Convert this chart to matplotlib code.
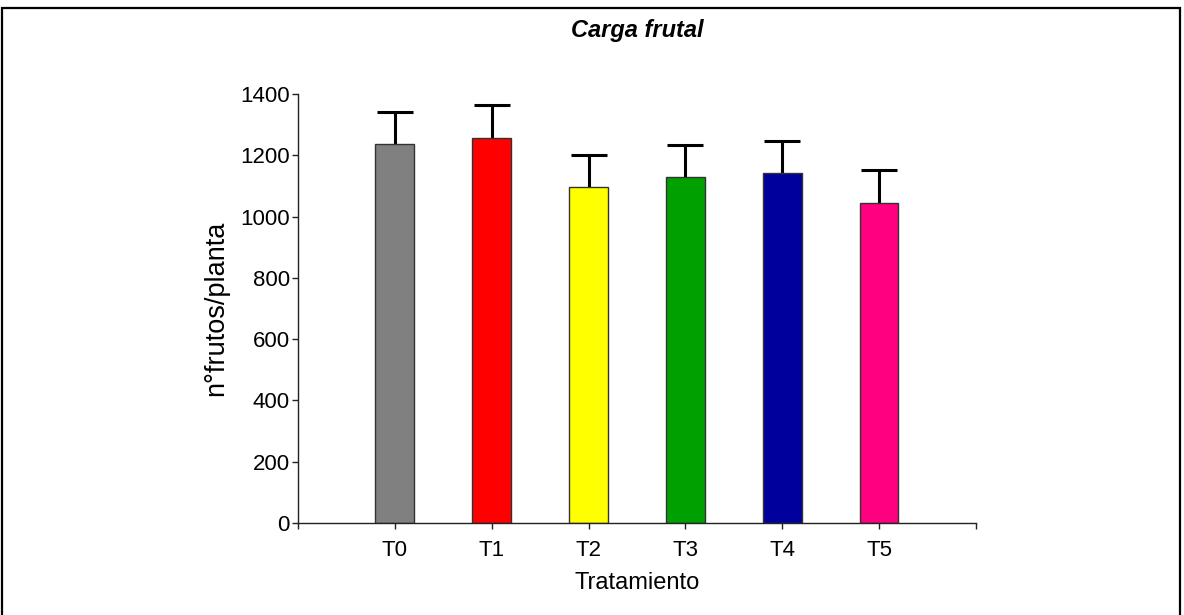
import numpy as np
import matplotlib.pyplot as plt
from matplotlib.patches import Rectangle

# data
tratamientos = ["T0", "T1", "T2", "T3", "T4", "T5"]
frutos = [1237, 1257, 1096, 1129, 1142, 1045]
error_sup = [104, 107, 104, 104, 105, 107]
colores = ["#808080", "#FF0000", "#FFFF00", "#00A000", "#00009C", "#FF0080"]

plt.rcParams['font.family'] = ['Liberation Sans', 'DejaVu Sans']

fig = plt.figure(figsize=(11.84, 6.15), dpi=100)
ax = fig.add_axes([0.2517, 0.1496, 0.5726, 0.6976])

x = np.arange(len(tratamientos))
ax.bar(x, frutos, width=0.4, color=colores, edgecolor="#333333", linewidth=1.0, zorder=2)
eb = ax.errorbar(x, frutos, yerr=[np.zeros(len(x)), error_sup], fmt="none",
                 ecolor="black", elinewidth=2.2, capsize=13.3, capthick=2.2, zorder=1)
# only the upper cap is drawn in the original
eb[1][0].set_visible(False)

ax.set_xlim(-1, 6)
ax.set_ylim(0, 1400)
ax.set_xticks(np.arange(-1, 7))
ax.set_xticklabels([""] + tratamientos + [""])
ax.set_yticks(np.arange(0, 1401, 200))

for s in ["top", "right"]:
    ax.spines[s].set_visible(False)
for s in ["left", "bottom"]:
    ax.spines[s].set_color("#222222")
    ax.spines[s].set_linewidth(1.0)

ax.tick_params(axis="both", direction="out", length=4, width=1, color="#222222",
               labelsize=16, pad=2)
ax.tick_params(axis="x", pad=8)

ax.set_xlabel("Tratamiento", fontsize=17, labelpad=8)
ax.set_ylabel("n°frutos/planta", fontsize=19.5, labelpad=8)
fig.text(0.538, 0.951, "Carga frutal", fontsize=17, fontweight="bold",
         fontstyle="italic", ha="center", va="center")

# frame around the whole figure
fig.patches.append(Rectangle((2 / 1184, -0.05), 1178 / 1184, 1.05 - 8 / 615,
                             transform=fig.transFigure, fill=False,
                             edgecolor="black", linewidth=1.6))

fig.savefig("out.png", dpi=100)
